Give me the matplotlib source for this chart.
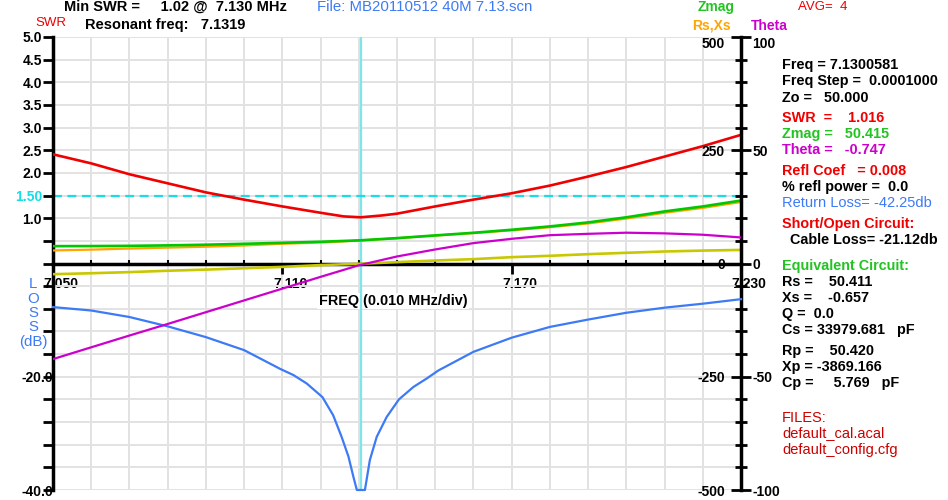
"""
Antenna analyzer sweep (40M dipole, 7.050-7.230 MHz) redrawn with matplotlib.
SWR / return loss on the left, Rs,Xs,Zmag and Theta on the right.
"""

import matplotlib

matplotlib.use("Agg")
import matplotlib.pyplot as plt
from matplotlib.ticker import MultipleLocator
from matplotlib.transforms import ScaledTranslation

# sweep points (0.010 MHz/div)
freq = [7.050, 7.060, 7.070, 7.080, 7.090, 7.100, 7.110, 7.120, 7.130, 7.140,
        7.150, 7.160, 7.170, 7.180, 7.190, 7.200, 7.210, 7.220, 7.230]
zmag = [38.3, 38.5, 39.0, 40.0, 41.5, 43.5, 45.7, 48.0, 51.0, 56.0,
        62.0, 67.8, 74.5, 81.9, 90.7, 102.0, 115.0, 126.0, 139.0]
rs = [28.8, 30.6, 33.0, 35.0, 37.0, 39.8, 43.5, 46.3, 50.5, 55.9,
      61.6, 67.1, 73.2, 80.1, 88.3, 99.2, 112.0, 122.7, 135.7]
xs = [-23.6, -21.5, -19.0, -16.0, -13.5, -10.5, -7.5, -3.5, -0.7, 3.0,
      6.6, 9.6, 14.0, 17.0, 20.6, 23.6, 26.5, 28.5, 30.0]
theta = [-42.2, -37.0, -31.8, -26.7, -21.5, -16.3, -11.1, -5.9, -0.8, 3.1,
         6.2, 9.0, 10.9, 12.5, 13.1, 13.6, 13.3, 12.7, 11.5]

swr_freq = [7.050, 7.060, 7.070, 7.080, 7.090, 7.100, 7.110, 7.120, 7.126, 7.1305,
            7.136, 7.140, 7.150, 7.160, 7.170, 7.180, 7.190, 7.200, 7.210, 7.220, 7.230]
swr = [2.41, 2.21, 1.97, 1.77, 1.57, 1.41, 1.26, 1.12, 1.04, 1.02,
       1.06, 1.10, 1.26, 1.41, 1.55, 1.72, 1.92, 2.13, 2.36, 2.59, 2.84]

loss_freq = [7.050, 7.060, 7.070, 7.080, 7.090, 7.100, 7.1094, 7.1129, 7.1164, 7.1205,
             7.1233, 7.1255, 7.1273, 7.1286, 7.1295, 7.1316, 7.1319, 7.1329, 7.1347, 7.1373,
             7.1405, 7.1443, 7.1478, 7.1508, 7.160, 7.170, 7.180, 7.190, 7.200, 7.210,
             7.220, 7.230]
loss_db = [-7.7, -8.3, -9.45, -11.1, -13.0, -15.3, -18.6, -19.7, -21.2, -23.6,
           -26.8, -30.6, -34.1, -37.7, -40.0, -40.0, -38.8, -34.7, -30.6, -27.1,
           -24.0, -21.8, -20.3, -18.9, -15.6, -13.1, -11.2, -9.9, -8.7, -7.8,
           -7.1, -6.3]

res_freq = 7.1305
swr_limit = 1.5

x_major = [7.050, 7.110, 7.170, 7.230]
x_labels = ["7.050", "7.110", "7.170", "7.230"]
swr_ticks = [1.0, 1.5, 2.0, 2.5, 3.0, 3.5, 4.0, 4.5, 5.0]
swr_labels = ["1.0", "1.50", "2.0", "2.5", "3.0", "3.5", "4.0", "4.5", "5.0"]
db_ticks = [-20, -40]
db_labels = ["-20.0", "-40.0"]
z_ticks = [-500, -250, 0, 250, 500]
th_ticks = [-100, -50, 0, 50, 100]

RED = "#f00000"
GREEN = "#00c800"
ORANGE = "#ffa500"
OLIVE = "#c8c800"
MAGENTA = "#cc00cc"
BLUE = "#3d7af5"
CYAN = "#18dce6"

plt.rcParams["font.family"] = ["Liberation Sans", "DejaVu Sans"]
plt.rcParams["font.weight"] = "bold"
plt.rcParams["font.size"] = 10
plt.rcParams["axes.unicode_minus"] = False

W, H = 948, 500
fig = plt.figure(figsize=(W / 100, H / 100), dpi=100)
fig.patch.set_facecolor("white")
ax = fig.add_axes([53 / W, 10 / H, 688 / W, 453 / H])


def put(x, y, s, color="black", weight="bold", ha="left", size=10.4, **kw):
    # x, y in screen pixels (top-left origin)
    fig.text(x / W, 1 - y / H, s, color=color, fontweight=weight,
             ha=ha, va="center", fontsize=size, **kw)


# ---- SWR axis (left, upper half) + grid + freq axis in the middle
ax.set_xlim(freq[0], freq[-1])
ax.set_ylim(-5, 5)
ax.set_axisbelow(True)
ax.set_xticks(x_major, labels=x_labels)
ax.set_xticks(freq, minor=True)
ax.set_yticks(swr_ticks, labels=swr_labels)
ax.yaxis.set_minor_locator(MultipleLocator(0.5))
ax.grid(True, which="both", color="#e2e2e2", lw=1.4)
for s in ("top", "right"):
    ax.spines[s].set_visible(False)
ax.spines["bottom"].set_position(("data", 0))
ax.spines["bottom"].set_linewidth(2.5)
ax.spines["left"].set_linewidth(2.5)
ax.tick_params(axis="y", which="both", direction="out", length=7, width=2, pad=1)
ax.tick_params(axis="x", which="major", direction="out", length=7, width=2, pad=3)
ax.tick_params(axis="x", which="minor", direction="in", length=3, width=1.5)
shift = ScaledTranslation(0.08, 0, fig.dpi_scale_trans)
for lab in ax.get_xticklabels():
    lab.set_transform(lab.get_transform() + shift)
ax.get_yticklabels()[1].set_color(CYAN)

ax.axvline(res_freq, color="#7ee6ea", lw=1.6, zorder=2)
ax.axhline(swr_limit, color=CYAN, lw=1.6, ls=(0, (4, 2.5)), zorder=2)
ax.plot(swr_freq, swr, color=RED, lw=1.9, zorder=3)
ax.text(393 / W, 1 - 301 / H, "FREQ (0.010 MHz/div)", transform=fig.transFigure,
        ha="center", va="center", zorder=1.5, fontsize=10.4,
        bbox=dict(facecolor="white", edgecolor="none", pad=1))

# ---- Rs, Xs, Zmag (inner right scale)
ax_z = ax.twinx()
ax_z.set_ylim(-500, 500)
for s in ("top", "bottom", "right"):
    ax_z.spines[s].set_visible(False)
ax_z.spines["left"].set_position(("axes", 1.0))
ax_z.spines["left"].set_linewidth(2.5)
ax_z.yaxis.tick_left()
ax_z.set_yticks(z_ticks, labels=[str(v) for v in z_ticks])
ax_z.yaxis.set_minor_locator(MultipleLocator(50))
ax_z.tick_params(axis="y", which="major", direction="inout", length=15, width=2, pad=4)
ax_z.tick_params(axis="y", which="minor", direction="inout", length=9, width=2)
ax_z.get_yticklabels()[-1].set_va("top")
ax_z.plot(freq, rs, color=ORANGE, lw=1.6)
ax_z.plot(freq, zmag, color=GREEN, lw=1.9)
ax_z.plot(freq, xs, color=OLIVE, lw=1.9)

# ---- return loss (left, lower half)
ax_db = ax.twinx()
ax_db.set_ylim(-40, 40)
for s in ax_db.spines.values():
    s.set_visible(False)
ax_db.yaxis.tick_left()
ax_db.set_yticks(db_ticks, labels=db_labels)
ax_db.tick_params(axis="y", length=0, pad=0)
ax_db.plot(loss_freq, loss_db, color=BLUE, lw=1.6, clip_on=False)

# ---- Theta (outer right scale)
ax_th = ax.twinx()
ax_th.set_ylim(-100, 100)
for s in ax_th.spines.values():
    s.set_visible(False)
ax_th.set_yticks(th_ticks, labels=[str(v) for v in th_ticks])
ax_th.tick_params(axis="y", length=0, pad=8)
ax_th.get_yticklabels()[-1].set_va("top")
ax_th.plot(freq, theta, color=MAGENTA, lw=1.6)

# ---- header
put(64, 7, "Min SWR =     1.02 @  7.130 MHz", size=10.5)
put(85, 25, "Resonant freq:   7.1319", size=10.5)
put(35, 23, "SWR", color=RED, weight="normal", size=9.5)
put(317, 7, "File: MB20110512 40M 7.13.scn", color=BLUE, weight="normal", size=10.8)
put(698, 7, "Zmag", color="#22c322", size=10)
put(798, 7, "AVG=  4", color=RED, weight="normal", size=9.5)
put(692, 26, "Rs,Xs", color=ORANGE, size=10)
put(751, 26, "Theta", color=MAGENTA, size=10)
put(33, 313, "L\nO\nS\nS\n(dB)", color=BLUE, weight="normal", ha="center",
    multialignment="center", linespacing=1.03, size=10.8)

# ---- readout panel
panel = [
    (65, "Freq = 7.1300581", "black", "bold"),
    (81, "Freq Step =  0.0001000", "black", "bold"),
    (98, "Zo =   50.000", "black", "bold"),
    (118, "SWR  =    1.016", RED, "bold"),
    (134, "Zmag =   50.415", "#22c322", "bold"),
    (150, "Theta =   -0.747", MAGENTA, "bold"),
    (171, "Refl Coef   = 0.008", RED, "bold"),
    (187, "% refl power =  0.0", "black", "bold"),
    (203, "Return Loss= -42.25db", BLUE, "normal"),
    (224, "Short/Open Circuit:", RED, "bold"),
    (240, "  Cable Loss= -21.12db", "black", "bold"),
    (266, "Equivalent Circuit:", "#22c322", "bold"),
    (282, "Rs =    50.411", "black", "bold"),
    (298, "Xs =    -0.657", "black", "bold"),
    (314, "Q =  0.0", "black", "bold"),
    (330, "Cs = 33979.681   pF", "black", "bold"),
    (351, "Rp =    50.420", "black", "bold"),
    (367, "Xp = -3869.166", "black", "bold"),
    (383, "Cp =     5.769   pF", "black", "bold"),
    (418, "FILES:", "#cc0000", "normal"),
    (433, "default_cal.acal", "#cc0000", "normal"),
    (450, "default_config.cfg", "#cc0000", "normal"),
]
for y, s, c, w in panel:
    put(782, y, s, color=c, weight=w, size=10.5 if w == "normal" else 10.4)

fig.savefig("out.png", dpi=100)
